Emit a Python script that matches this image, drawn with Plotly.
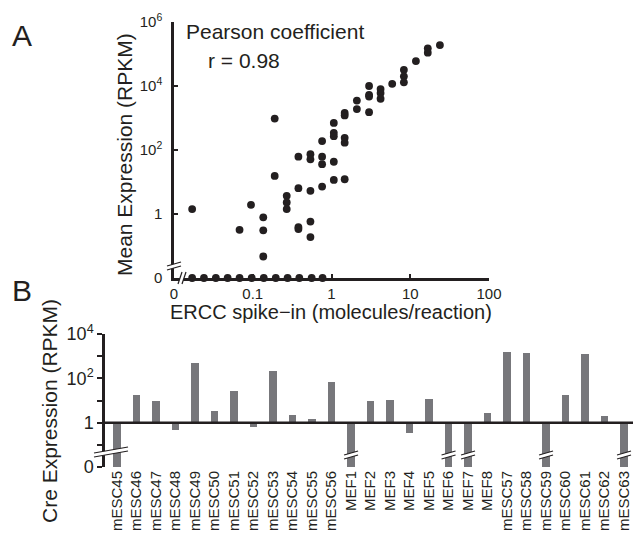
import plotly.graph_objects as go

W, H = 633, 534
INK = "#231f20"
BAR = "#77777b"
FONT = "Liberation Sans, Arial, sans-serif"

# ---------------- Panel A data ----------------
ercc_conc = [0.017, 0.068, 0.095,
             0.136, 0.136, 0.136,
             0.19, 0.19,
             0.27, 0.27, 0.27,
             0.38, 0.38, 0.38, 0.38,
             0.54, 0.54, 0.54, 0.54, 0.54,
             0.76, 0.76, 0.76, 0.76,
             1.07, 1.07, 1.07, 1.07, 1.07,
             1.47, 1.47, 1.47, 1.47, 1.47,
             2.1, 2.1,
             3.0, 3.0, 3.0, 3.0,
             4.2, 4.2, 4.2,
             5.9,
             8.3, 8.3, 8.3,
             11.8,
             16.7, 16.7,
             23.8]
mean_rpkm = [1.43, 0.32, 1.94,
             0.79, 0.31, 0.047,
             15.5, 960,
             3.7, 2.3, 1.43,
             0.39, 0.34, 6.4, 62,
             0.58, 0.19, 5.3, 74, 51,
             7.2, 62, 36, 190,
             11.6, 43, 700, 345, 270,
             12.2, 1440, 1200, 240, 170,
             3500, 1900,
             1520, 10000, 5300, 4700,
             8000, 6000, 4000,
             11700,
             32000, 20000, 13000,
             60000,
             150000, 110000,
             190000]
# spike-ins with zero detected expression
zero_expr_conc = [0.017, 0.024, 0.034, 0.048, 0.068, 0.097, 0.138, 0.196,
                  0.277, 0.39, 0.56, 0.77]
zero_expr_rpkm = [0] * len(zero_expr_conc)
ZERO_POS_A = 0.01  # where "0" is drawn on the log axes of panel A

a_xticks = [0.01, 0.1, 1, 10, 100]
a_xticktext = ["0", "0.1", "1", "10", "100"]
a_yticks = [0.01, 1, 100, 1e4, 1e6]
a_yticktext = ["0", "1", "10<sup>2</sup>", "10<sup>4</sup>", "10<sup>6</sup>"]

# ---------------- Panel B data ----------------
samples = ["mESC45", "mESC46", "mESC47", "mESC48", "mESC49", "mESC50", "mESC51",
           "mESC52", "mESC53", "mESC54", "mESC55", "mESC56",
           "MEF1", "MEF2", "MEF3", "MEF4", "MEF5", "MEF6", "MEF7", "MEF8",
           "mESC57", "mESC58", "mESC59", "mESC60", "mESC61", "mESC62", "mESC63"]
cre_rpkm = [0, 17, 10, 0.48, 480, 3.2, 28,
            0.66, 210, 2.3, 1.5, 66,
            0, 10, 11, 0.35, 12, 0, 0, 2.6,
            1500, 1380, 0, 17, 1230, 2.1, 0]
ZERO_POS_B = 0.01
b_yticks = [0.01, 1, 100, 10000]
b_yticktext = ["0", "1", "10<sup>2</sup>", "10<sup>4</sup>"]
b_yminor = [0.1, 10, 1000]

# ---------------- layout geometry (pixels) ----------------
A_L, A_R, A_T, A_B = 174, 489, 22, 278
B_L, B_R, B_T, B_B = 105, 633, 334, 467


def px(x):
    return x / W


def py(y):
    return 1 - y / H


fig = go.Figure()

# Panel A scatter
fig.add_trace(go.Scatter(
    x=ercc_conc, y=mean_rpkm, mode="markers",
    marker=dict(size=7.8, color=INK, line=dict(width=0)),
    xaxis="x", yaxis="y", cliponaxis=False, showlegend=False))
fig.add_trace(go.Scatter(
    x=zero_expr_conc,
    y=[ZERO_POS_A if v == 0 else v for v in zero_expr_rpkm],
    mode="markers",
    marker=dict(size=7.8, color=INK, line=dict(width=0)),
    xaxis="x", yaxis="y", cliponaxis=False, showlegend=False))

# Panel B bars, from 1 (log baseline) up or down
b_vals = [ZERO_POS_B if v == 0 else v for v in cre_rpkm]
fig.add_trace(go.Bar(
    x=samples, y=[v - 1 for v in b_vals], base=[1] * len(b_vals),
    marker=dict(color=BAR, line=dict(width=0)), width=0.4,
    xaxis="x2", yaxis="y2", showlegend=False))

shapes = []


def _brk(p1, p2, p3, p4, lw):
    path = "M {} {} L {} {} L {} {} L {} {} Z".format(
        px(p1[0]), py(p1[1]), px(p2[0]), py(p2[1]),
        px(p3[0]), py(p3[1]), px(p4[0]), py(p4[1]))
    shapes.append(dict(type="path", path=path, xref="paper", yref="paper",
                       fillcolor="white", line=dict(width=0)))
    for a, b in ((p1, p2), (p4, p3)):
        shapes.append(dict(type="line", xref="paper", yref="paper",
                           x0=px(a[0]), y0=py(a[1]), x1=px(b[0]), y1=py(b[1]),
                           line=dict(color=INK, width=lw)))


def vbreak(cx, cy, hw, sl, gap, lw=1.2):
    """'//' break across a vertical line (pixel coords)."""
    _brk((cx - hw, cy + sl + gap / 2), (cx + hw, cy - sl + gap / 2),
         (cx + hw, cy - sl - gap / 2), (cx - hw, cy + sl - gap / 2), lw)


def hbreak(cx, cy, hh, sl, gap, lw=1.2):
    """'//' break across a horizontal line (pixel coords)."""
    _brk((cx - sl - gap / 2, cy + hh), (cx + sl - gap / 2, cy - hh),
         (cx + sl + gap / 2, cy - hh), (cx - sl + gap / 2, cy + hh), lw)


# baseline at RPKM = 1 in panel B
b_lo, b_hi = -2, 4
base_frac = (0 - b_lo) / (b_hi - b_lo)
shapes.append(dict(type="line", xref="paper", yref="y2 domain",
                   x0=px(B_L), x1=1.0, y0=base_frac, y1=base_frac,
                   line=dict(color=INK, width=2.5)))

# axis breaks
vbreak(A_L, 266, 7, 2, 4)
hbreak(A_L + 8, A_B, 6, 2, 4)
b_x_range = [-0.62, 26.46]
unit = (B_R - B_L) / (b_x_range[1] - b_x_range[0])
vbreak(B_L + 6, 452, 17, 3, 4)
for i, v in enumerate(cre_rpkm):
    if v == 0 and i > 0:
        cx = B_L + (i - b_x_range[0]) * unit
        vbreak(cx, 455, 7, 2, 4)


def ann(text, x, y, size, **kw):
    d = dict(text=text, x=px(x), y=py(y), xref="paper", yref="paper",
             xanchor="center", yanchor="middle", showarrow=False,
             font=dict(size=size, color=INK, family=FONT))
    d.update(kw)
    return d


annotations = [
    ann("A", 22, 36, 30),
    ann("B", 22, 290, 30),
    ann("Pearson coefficient", 184, 31, 21, xanchor="left"),
    ann("r = 0.98", 206, 61, 21, xanchor="left"),
    ann("Mean Expression (RPKM)", 125, 155, 21, textangle=-90),
    ann("ERCC spike\u2212in (molecules/reaction)", 331, 312, 20),
    ann("Cre Expression (RPKM)", 49, 411, 21, textangle=-90),
]

fig.update_layout(
    width=W, height=H,
    margin=dict(l=0, r=0, t=0, b=0, pad=0, autoexpand=False),
    paper_bgcolor="white", plot_bgcolor="white",
    font=dict(family=FONT, color=INK),
    shapes=shapes, annotations=annotations, bargap=0,
    xaxis=dict(type="log", range=[-2, 2], domain=[px(A_L), px(A_R)],
               anchor="y", showline=True, linecolor=INK, linewidth=2.5,
               ticks="inside", ticklen=4, tickwidth=1.5, tickcolor=INK,
               tickvals=a_xticks, ticktext=a_xticktext, automargin=False,
               showgrid=False, zeroline=False,
               tickfont=dict(size=15, color=INK)),
    yaxis=dict(type="log", range=[-2, 6], domain=[py(A_B), py(A_T)],
               anchor="x", showline=True, linecolor=INK, linewidth=2.5,
               ticks="inside", ticklen=4, tickwidth=1.5, tickcolor=INK,
               tickvals=a_yticks, ticktext=a_yticktext, automargin=False,
               showgrid=False, zeroline=False, ticklabelstandoff=6,
               tickfont=dict(size=15, color=INK)),
    xaxis2=dict(domain=[px(B_L), px(B_R)], anchor="y2", type="category",
                range=b_x_range, showline=False, ticks="", automargin=False,
                tickangle=-90, showgrid=False, zeroline=False,
                tickfont=dict(size=15, color=INK)),
    yaxis2=dict(type="log", range=[b_lo, b_hi], domain=[py(B_B), py(B_T)],
                anchor="x2", showline=True, linecolor=INK, linewidth=2.5,
                ticks="outside", ticklen=5, tickwidth=1.5, tickcolor=INK,
                tickvals=b_yticks, ticktext=b_yticktext, automargin=False,
                minor=dict(tickvals=b_yminor, ticks="outside", ticklen=5,
                           tickwidth=1.5, tickcolor=INK, showgrid=False),
                showgrid=False, zeroline=False,
                tickfont=dict(size=18, color=INK)),
)

fig.write_html("out.html",
               config={"displayModeBar": False},
               post_script="document.body.style.margin='0';")
